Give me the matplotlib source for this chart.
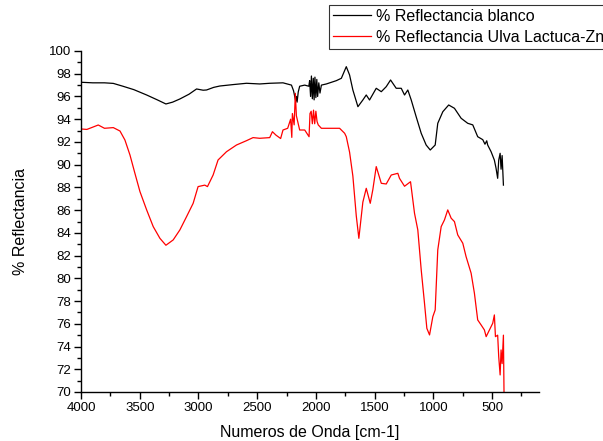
import numpy as np
import matplotlib
matplotlib.use("Agg")
import matplotlib.pyplot as plt
from matplotlib.ticker import MultipleLocator

plt.rcParams['font.family'] = ['Liberation Sans', 'DejaVu Sans']

# % Reflectancia blanco
wn_blanco = [4000, 3900, 3800, 3725, 3643, 3550, 3441, 3350, 3277, 3220, 3158, 3080,
             3016, 2960, 2931, 2870, 2818, 2700, 2591, 2478, 2393, 2280, 2208, 2190,
             2180, 2172, 2166, 2160, 2150, 2138, 2095, 2060, 2053, 2045, 2038, 2030,
             2022, 2015, 2008, 2000, 1992, 1985, 1975, 1965, 1953, 1911, 1826, 1783,
             1741, 1713, 1685, 1642, 1600, 1571, 1543, 1486, 1443, 1401, 1364, 1316,
             1273, 1245, 1217, 1188, 1146, 1103, 1061, 1026, 984, 962, 919, 869, 820,
             763, 707, 664, 622, 579, 560, 545, 537, 508, 480, 466, 452, 443, 431, 423,
             414, 403]
r_blanco = [97.25, 97.2, 97.2, 97.15, 96.9, 96.6, 96.13, 95.7, 95.34, 95.5, 95.78, 96.2,
            96.66, 96.55, 96.57, 96.8, 96.92, 97.05, 97.16, 97.1, 97.16, 97.2, 97.0, 96.5,
            96.0, 95.6, 96.0, 95.5, 96.4, 96.9, 97.0, 96.9, 97.4, 96.0, 97.8, 95.8,
            97.6, 95.7, 97.7, 95.9, 97.5, 96.0, 97.2, 96.3, 97.0, 97.1, 97.39, 97.6,
            98.62, 97.89, 96.57, 95.1, 95.69, 96.13, 95.69, 96.72, 96.42, 96.86, 97.45, 96.72,
            96.72, 96.13, 96.57, 95.69, 94.22, 92.76, 91.73, 91.29, 91.73, 93.64, 94.66, 95.25, 94.96,
            94.08, 93.64, 93.5, 92.46, 92.2, 91.8, 92.1, 91.73, 91.14, 90.4, 89.7, 88.8, 90.4, 91.0,
            89.6, 90.8, 88.2]

# % Reflectancia Ulva Lactuca-Zn
wn_ulva = [4000, 3950, 3900, 3853, 3800, 3725, 3668, 3626, 3583, 3541, 3498, 3441,
           3385, 3328, 3277, 3215, 3158, 3101, 3045, 3003, 2946, 2923, 2875, 2833,
           2761, 2676, 2591, 2535, 2478, 2393, 2370, 2340, 2300, 2280, 2240, 2215,
           2205, 2200, 2185, 2175, 2166, 2138, 2095, 2058, 2050, 2040, 2030, 2020,
           2010, 2000, 1990, 1980, 1953, 1826, 1798, 1755, 1741, 1713, 1685, 1656,
           1634, 1600, 1571, 1537, 1515, 1486, 1443, 1401, 1358, 1302, 1288, 1245,
           1194, 1160, 1132, 1103, 1075, 1055, 1032, 1004, 984, 962, 933, 905, 877,
           848, 820, 792, 749, 721, 678, 650, 622, 593, 565, 550, 522, 494, 480, 471,
           452, 443, 431, 423, 414, 403, 397]
r_ulva = [93.14, 93.1, 93.3, 93.49, 93.2, 93.26, 92.96, 92.17, 90.85, 89.24, 87.63, 86.02,
          84.55, 83.52, 82.91, 83.38, 84.26, 85.43, 86.6, 88.07, 88.2, 88.07, 89.09, 90.41,
          91.14, 91.73, 92.11, 92.38, 92.32, 92.38, 92.9, 92.6, 92.3, 93.05, 93.2, 94.0,
          92.4, 94.5, 93.5, 96.28, 94.3, 93.05, 93.05, 92.46, 94.5, 94.7, 93.6, 94.8,
          93.6, 94.7, 93.8, 93.5, 93.2, 93.2, 93.2, 92.76, 92.46, 91.1, 89.0, 85.5,
          83.52, 86.7, 87.92, 86.6, 87.8, 89.83, 88.36, 88.3, 89.09, 89.24, 88.8, 88.1,
          88.5, 85.72, 84.26, 80.74, 77.81, 75.6, 75.02, 76.63, 77.22, 82.5, 84.55, 85.14, 86.02,
          85.29, 84.99, 83.82, 83.09, 81.91, 80.45, 78.69, 76.34, 75.9, 75.46, 74.87, 75.46, 76.05, 76.78, 74.87,
          75.0, 73.11, 71.5, 73.7, 72.5, 75.0, 69.0]

fig = plt.figure(figsize=(6.03, 4.41), dpi=100)
ax = fig.add_axes([81/603, 1-392/441, (539-81)/603, (392-51)/441])

ax.plot(wn_blanco, r_blanco, color='black', lw=0.9, label='% Reflectancia blanco')
ax.plot(wn_ulva, r_ulva, color='red', lw=0.9, label='% Reflectancia Ulva Lactuca-Zn')

ax.set_xlim(4000, 100)
ax.set_ylim(70, 100)
ax.set_xticks(np.arange(500, 4001, 500))
ax.xaxis.set_minor_locator(MultipleLocator(250))
ax.yaxis.set_major_locator(MultipleLocator(2))
ax.yaxis.set_minor_locator(MultipleLocator(1))

for s in ['top', 'right']:
    ax.spines[s].set_visible(False)
for s in ['left', 'bottom']:
    ax.spines[s].set_linewidth(1.0)
ax.tick_params(which='major', length=5, width=1, labelsize=9.5, pad=2)
ax.tick_params(which='minor', length=3, width=1)

ax.set_xlabel('Numeros de Onda [cm-1]', fontsize=11.5, labelpad=8)
ax.set_ylabel('% Reflectancia', fontsize=11.5, labelpad=15)

leg = fig.legend(loc='upper left', bbox_to_anchor=(329/603, 1-5/441), fontsize=11.5,
                 frameon=True, fancybox=False, edgecolor='black', handlelength=2.4,
                 handletextpad=0.3, labelspacing=0.35, borderpad=0.25, borderaxespad=0)
leg.get_frame().set_linewidth(0.8)

fig.savefig('out.png', dpi=100)
